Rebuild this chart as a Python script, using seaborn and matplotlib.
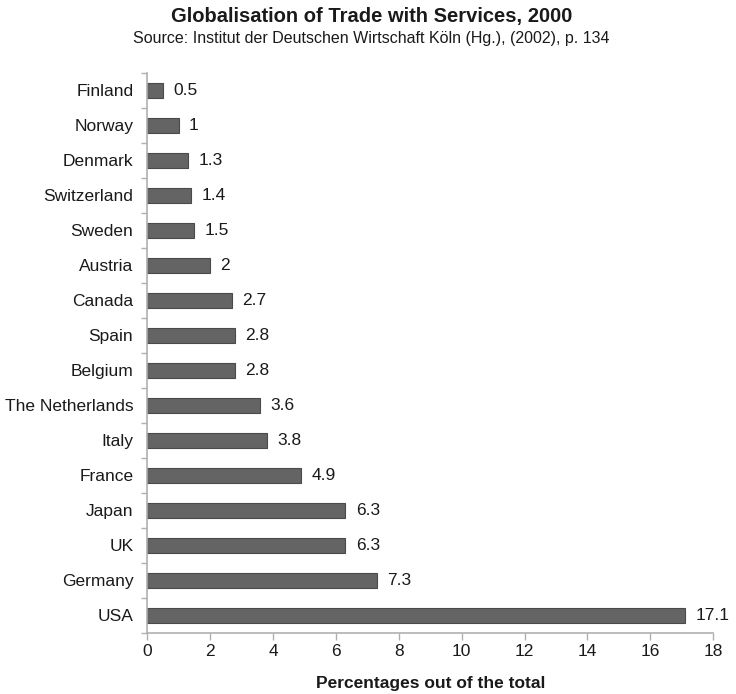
import matplotlib
matplotlib.use("Agg")
import matplotlib.pyplot as plt
from matplotlib.ticker import FixedLocator
import seaborn as sns
import pandas as pd

countries = ["Finland", "Norway", "Denmark", "Switzerland", "Sweden", "Austria",
             "Canada", "Spain", "Belgium", "The Netherlands", "Italy", "France",
             "Japan", "UK", "Germany", "USA"]
shares = [0.5, 1, 1.3, 1.4, 1.5, 2, 2.7, 2.8, 2.8, 3.6, 3.8, 4.9, 6.3, 6.3, 7.3, 17.1]
labels = ["0.5", "1", "1.3", "1.4", "1.5", "2", "2.7", "2.8", "2.8", "3.6",
          "3.8", "4.9", "6.3", "6.3", "7.3", "17.1"]
x_ticks = [0, 2, 4, 6, 8, 10, 12, 14, 16, 18]

sns.set_style("white")
plt.rcParams["font.family"] = ["Liberation Sans", "DejaVu Sans"]

df = pd.DataFrame({"country": countries, "share": shares})

fig = plt.figure(figsize=(7.36, 6.94), dpi=100)
ax = fig.add_axes([0.2, 0.088, 0.769, 0.807])

sns.barplot(data=df, x="share", y="country", orient="h", color="#646464",
            edgecolor="#4a4a4a", linewidth=0.8, width=0.42, saturation=1, ax=ax)

for i, (v, t) in enumerate(zip(shares, labels)):
    ax.text(v + 0.33, i, t, va="center", ha="left", fontsize=12.5, color="#1a1a1a")

ax.set_xlim(0, 18)
ax.set_ylim(len(countries) - 0.5, -0.5)
ax.set_xticks(x_ticks)
ax.set_xticklabels([str(t) for t in x_ticks], fontsize=12.5, color="#1a1a1a")
ax.tick_params(axis="x", bottom=True, direction="out", length=5, width=1,
               color="#b0b0b0", pad=3)
ax.tick_params(axis="y", which="major", left=False, labelsize=12.5,
               labelcolor="#1a1a1a", pad=6.5)
ax.yaxis.set_minor_locator(FixedLocator([i - 0.5 for i in range(len(countries) + 1)]))
ax.tick_params(axis="y", which="minor", left=True, direction="out", length=4,
               width=1, color="#b0b0b0")

for side in ["top", "right"]:
    ax.spines[side].set_visible(False)
for side in ["left", "bottom"]:
    ax.spines[side].set_color("#b0b0b0")
    ax.spines[side].set_linewidth(1.2)

ax.set_ylabel("")
ax.set_xlabel("Percentages out of the total", fontsize=12.5, fontweight="bold",
              color="#1a1a1a", labelpad=12)

fig.text(0.505, 0.976, "Globalisation of Trade with Services, 2000", ha="center",
         va="center", fontsize=14.5, fontweight="bold", color="#1a1a1a")
fig.text(0.505, 0.945, "Source: Institut der Deutschen Wirtschaft Köln (Hg.), (2002), p. 134",
         ha="center", va="center", fontsize=11.5, color="#1a1a1a")

fig.savefig("out.png", dpi=100)
